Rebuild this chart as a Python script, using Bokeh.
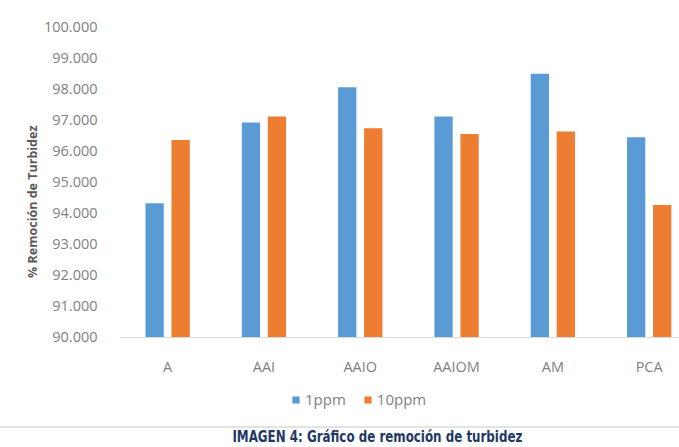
from bokeh.plotting import figure
from bokeh.layouts import column
from bokeh.models import (Range1d, FixedTicker, NumeralTickFormatter, Legend, LegendItem,
                          ColumnDataSource, Div, Title)
from bokeh.embed import file_html
from bokeh.resources import INLINE

# Turbidity removal (%) per treatment, at two coagulant doses
categories = ["A", "AAI", "AAIO", "AAIOM", "AM", "PCA"]
removal_1ppm = [94.32, 96.91, 98.05, 97.11, 98.48, 96.44]
removal_10ppm = [96.35, 97.11, 96.73, 96.54, 96.62, 94.26]
y_ticks = [90, 91, 92, 93, 94, 95, 96, 97, 98, 99, 100]
y_title = "% Remoción de Turbidez"
caption = "IMAGEN 4: Gráfico de remoción de turbidez"

BLUE = "#5b9bd5"
ORANGE = "#ed7d31"
TEXT_GRAY = "#7f7f7f"
FONT = "Open Sans"

centers = [i + 0.5 for i in range(len(categories))]
src = ColumnDataSource(dict(
    x1=[c - 0.135 for c in centers],
    x10=[c + 0.135 for c in centers],
    y1=removal_1ppm,
    y10=removal_10ppm,
))

# the plot frame runs to the bottom of the figure so the legend can sit
# under the category axis; the x axis is pinned at y = 90
p = figure(width=679, height=420, output_backend="svg", toolbar_location=None,
           x_range=Range1d(0, 5.815), y_range=Range1d(87.331, 100),
           min_border_left=119, min_border_right=0, min_border_top=26,
           min_border_bottom=0)
p.outline_line_color = None
p.background_fill_color = "white"
p.border_fill_color = "white"
p.xgrid.visible = False
p.ygrid.visible = False

r1 = p.vbar(x="x1", top="y1", bottom=90, width=0.19, source=src,
            fill_color=BLUE, line_color=None)
r10 = p.vbar(x="x10", top="y10", bottom=90, width=0.19, source=src,
             fill_color=ORANGE, line_color=None)

# x axis: category labels at bar-group centers
xaxis = p.xaxis[0]
xaxis.fixed_location = 90
xaxis.ticker = FixedTicker(ticks=centers)
xaxis.major_label_overrides = {c: name for c, name in zip(centers, categories)}
xaxis.axis_line_color = "#d9d9d9"
xaxis.major_tick_line_color = None
xaxis.minor_tick_line_color = None
xaxis.major_label_text_color = TEXT_GRAY
xaxis.major_label_text_font = FONT
xaxis.major_label_text_font_size = "14.5px"
xaxis.major_label_standoff = 14

# y axis
p.yaxis.ticker = FixedTicker(ticks=y_ticks)
p.yaxis.formatter = NumeralTickFormatter(format="0.000")
p.yaxis.axis_line_color = None
p.yaxis.major_tick_line_color = None
p.yaxis.minor_tick_line_color = None
p.yaxis.major_label_text_color = TEXT_GRAY
p.yaxis.major_label_text_font = FONT
p.yaxis.major_label_text_font_size = "14.5px"
p.yaxis.major_label_standoff = 16

# y-axis title, placed along the 90-100 span rather than the whole frame
p.add_layout(Title(text=y_title, align="right", offset=99, standoff=0,
                   text_font=FONT, text_font_style="bold",
                   text_font_size="12.5px", text_color="#595959"), "left")

# legend below the category labels
legend = Legend(items=[LegendItem(label="1ppm", renderers=[r1]),
                       LegendItem(label="10ppm", renderers=[r10])],
                orientation="horizontal", location=(172, 11),
                glyph_width=9, glyph_height=9, label_text_font=FONT,
                label_text_font_size="15px", label_text_color=TEXT_GRAY,
                border_line_color=None, background_fill_alpha=0,
                spacing=17, padding=4, margin=0, label_standoff=5)
p.add_layout(legend)

# caption under a thin rule
cap = Div(width=679, height=27, margin=0, text=(
    '<div style="position:relative;width:679px;height:27px;overflow:hidden;">'
    '<div style="position:absolute;left:0;top:6px;width:679px;height:0;'
    'border-top:2px solid #e3e3e3;"></div>'
    '<div style="position:absolute;left:0;top:9px;width:755px;text-align:center;'
    "font-family:'DejaVu Sans Condensed';font-weight:bold;"
    'font-size:15px;color:#1f3864;line-height:16px;'
    'transform:scaleX(0.88);transform-origin:377px 8px;">' + caption + '</div></div>'))

layout = column(p, cap, spacing=0)
open("out.html", "w").write(file_html(layout, INLINE))
